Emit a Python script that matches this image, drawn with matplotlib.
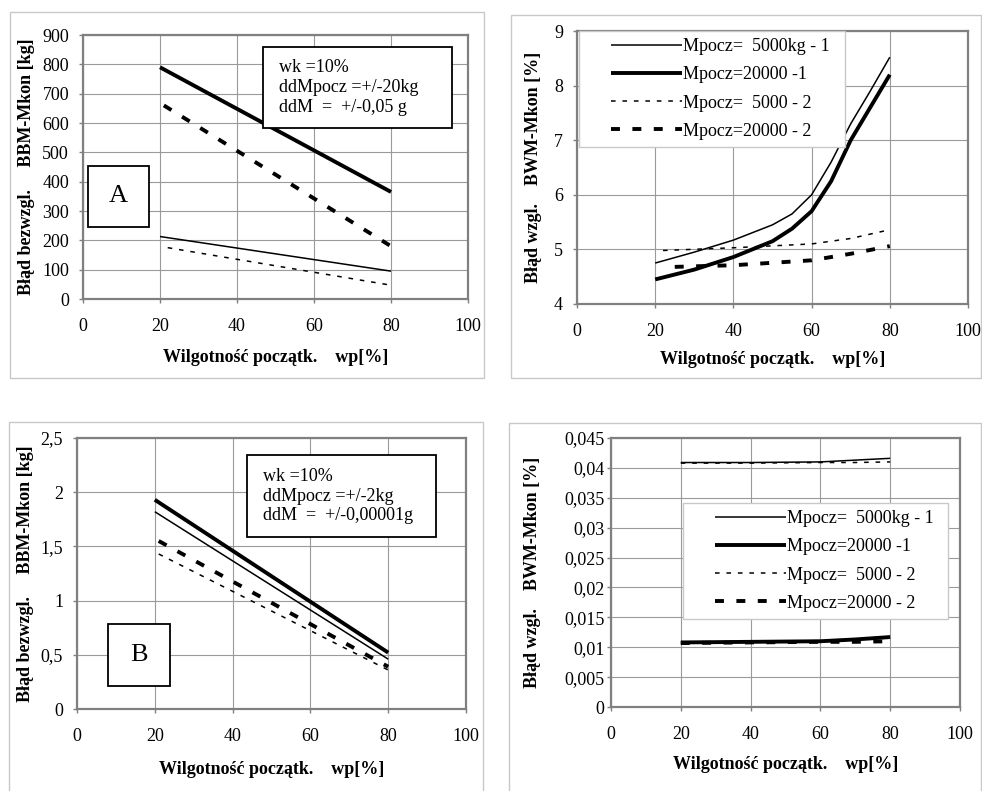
import matplotlib
matplotlib.use("Agg")
import matplotlib.pyplot as plt
from matplotlib.patches import Rectangle
from matplotlib.lines import Line2D
from matplotlib.legend_handler import HandlerLine2D

plt.rcParams['font.family'] = ['Liberation Serif', 'DejaVu Serif']

W, H = 982, 791

# ---- data ----
x_ticks = [0, 20, 40, 60, 80, 100]
x_ticklabels = ['0', '20', '40', '60', '80', '100']

# panel A : absolute error, ddMpocz = +/-20 kg
a_x = [20, 80]
a_thin_solid = [213, 95]
a_thick_solid = [790, 365]
a_dot_x = [22, 80]
a_thin_dot = [175, 47]
a_dash_x = [21, 80]
a_thick_dash = [660, 180]
a_yticks = [0, 100, 200, 300, 400, 500, 600, 700, 800, 900]
a_yticklabels = ['0', '100', '200', '300', '400', '500', '600', '700', '800', '900']

# panel C : relative error, top right
c_x = [20, 30, 40, 50, 55, 60, 65, 70, 75, 80]
c_thin_solid = [4.75, 4.95, 5.17, 5.45, 5.65, 6.0, 6.6, 7.3, 7.9, 8.52]
c_thick_solid = [4.45, 4.63, 4.86, 5.15, 5.38, 5.7, 6.25, 7.0, 7.6, 8.2]
c_dot_x = [22, 40, 60, 70, 80]
c_thin_dot = [4.98, 5.03, 5.1, 5.2, 5.36]
c_dash_x = [25, 40, 60, 70, 80]
c_thick_dash = [4.68, 4.71, 4.8, 4.92, 5.06]
c_yticks = [4, 5, 6, 7, 8, 9]
c_yticklabels = ['4', '5', '6', '7', '8', '9']

# panel B : absolute error, ddMpocz = +/-2 kg
b_x = [20, 80]
b_thin_solid = [1.82, 0.46]
b_thick_solid = [1.93, 0.52]
b_dot_x = [21, 80]
b_thin_dot = [1.43, 0.36]
b_dash_x = [21, 80]
b_thick_dash = [1.55, 0.39]
b_yticks = [0, 0.5, 1, 1.5, 2, 2.5]
b_yticklabels = ['0', '0,5', '1', '1,5', '2', '2,5']

# panel D : relative error, bottom right
d_x = [20, 40, 60, 70, 80]
d_thin_solid = [0.0409, 0.0409, 0.0410, 0.0413, 0.0416]
d_thick_solid = [0.0108, 0.0109, 0.0110, 0.0113, 0.0117]
d_thin_dot = [0.0408, 0.0408, 0.0409, 0.0409, 0.0410]
d_thick_dash = [0.0107, 0.0108, 0.0109, 0.0109, 0.0110]
d_yticks = [0, 0.005, 0.01, 0.015, 0.02, 0.025, 0.03, 0.035, 0.04, 0.045]
d_yticklabels = ['0', '0,005', '0,01', '0,015', '0,02', '0,025', '0,03', '0,035', '0,04', '0,045']

series_names = ['Mpocz=  5000kg - 1', 'Mpocz=20000 -1', 'Mpocz=  5000 - 2', 'Mpocz=20000 - 2']
xlabel = 'Wilgotność początk.    wp[%]'
ylabel_abs_a = 'Błąd bezwzgl.     BBM-Mkon [kg]'
ylabel_abs_b = 'Błąd bezwzgl.     BBM-Mkon [kg]'
ylabel_rel = 'Błąd wzgl.    BWM-Mkon [%]'

FS = 13

thin = dict(color='black', lw=1.1, solid_capstyle='butt')
thick = dict(color='black', lw=2.8, solid_capstyle='butt')
dotted = dict(color='black', lw=1.1, dashes=(3, 4.5))
dashed = dict(color='black', lw=2.8, dashes=(2.3, 3.2))


def rect(l, t, r, b):
    return [l / W, 1 - b / H, (r - l) / W, (b - t) / H]


fig = plt.figure(figsize=(W / 100, H / 100), dpi=100)


def frame(l, t, r, b):
    fig.add_artist(Rectangle((l / W, 1 - b / H), (r - l) / W, (b - t) / H,
                             transform=fig.transFigure, fill=False,
                             edgecolor='#c8c8c8', lw=1.0, zorder=0))


def setup(ax, ylim, yticks, yticklabels, ylab, lab_off, axw, axh, ypad=7):
    ax.set_xlim(0, 100)
    ax.set_ylim(*ylim)
    ax.set_xticks(x_ticks)
    ax.set_xticklabels(x_ticklabels)
    ax.set_yticks(yticks)
    ax.set_yticklabels(yticklabels)
    ax.grid(True, color='#9a9a9a', lw=0.8)
    ax.set_axisbelow(True)
    for s in ax.spines.values():
        s.set_color('#808080')
        s.set_linewidth(1.6)
    ax.tick_params(direction='out', length=3, width=1, color='#808080', labelsize=FS)
    ax.tick_params(axis='x', pad=10.5)
    ax.tick_params(axis='y', pad=ypad)
    ax.set_xlabel(xlabel, fontsize=FS, fontweight='bold')
    ax.set_ylabel(ylab, fontsize=FS, fontweight='bold')
    ax.xaxis.set_label_coords(0.5, -lab_off[0] / axh)
    ax.yaxis.set_label_coords(-lab_off[1] / axw, 0.5)


def textbox(l, t, r, b, lines, tx, ty, dy, size=FS):
    fig.add_artist(Rectangle((l / W, 1 - b / H), (r - l) / W, (b - t) / H,
                             transform=fig.transFigure, facecolor='white',
                             edgecolor='black', lw=1.3, zorder=5))
    for i, s in enumerate(lines):
        fig.text(tx / W, 1 - (ty + i * dy) / H, s, fontsize=size,
                 ha='left', va='center', zorder=6)


def legend(ax, handles, l, t, r, b):
    leg = ax.legend(handles, series_names, loc='upper left',
                    bbox_to_anchor=rect(l, t, r, b), bbox_transform=fig.transFigure,
                    mode='expand', borderaxespad=0, fontsize=FS, handlelength=5.3,
                    handletextpad=0.05, labelspacing=0.62, borderpad=0.4,
                    fancybox=False, framealpha=1, edgecolor='#c8c8c8',
                    handler_map={Line2D: HandlerLine2D(xpad=1.35)})
    leg.get_frame().set_linewidth(1.0)
    leg.set_zorder(5)


# ---- panel A ----
frame(10, 12, 484, 378)
axA = fig.add_axes(rect(83, 35, 468, 299))
axA.plot(a_x, a_thin_solid, **thin)
axA.plot(a_x, a_thick_solid, **thick)
axA.plot(a_dot_x, a_thin_dot, **dotted)
axA.plot(a_dash_x, a_thick_dash, **dashed)
setup(axA, (0, 900), a_yticks, a_yticklabels, ylabel_abs_a, (50, 48), 385, 264)
textbox(263, 47, 452, 128, ['wk =10%', 'ddMpocz =+/-20kg', 'ddM  =  +/-0,05 g'],
        279, 68, 20)
textbox(88, 166, 149, 227, [], 0, 0, 0)
fig.text((88 + 149) / 2 / W, 1 - 196 / H, 'A', fontsize=19, ha='center', va='center', zorder=6)

# ---- panel C ----
frame(511, 15, 981, 378)
axC = fig.add_axes(rect(577, 31, 968, 304))
lc = [axC.plot(c_x, c_thin_solid, **thin)[0],
      axC.plot(c_x, c_thick_solid, **thick)[0],
      axC.plot(c_dot_x, c_thin_dot, **dotted)[0],
      axC.plot(c_dash_x, c_thick_dash, **dashed)[0]]
setup(axC, (4, 9), c_yticks, c_yticklabels, ylabel_rel, (47, 35), 391, 273)
legend(axC, lc, 579, 31, 845, 147)

# ---- panel B ----
frame(9, 422, 483, 800)
axB = fig.add_axes(rect(77, 438, 466, 709))
axB.plot(b_x, b_thin_solid, **thin)
axB.plot(b_x, b_thick_solid, **thick)
axB.plot(b_dot_x, b_thin_dot, **dotted)
axB.plot(b_dash_x, b_thick_dash, **dashed)
setup(axB, (0, 2.5), b_yticks, b_yticklabels, ylabel_abs_b, (52, 43), 389, 271)
textbox(247, 455, 436, 537, ['wk =10%', 'ddMpocz =+/-2kg', 'ddM  =  +/-0,00001g'],
        263, 476, 20)
textbox(108, 624, 170, 686, [], 0, 0, 0)
fig.text((108 + 170) / 2 / W, 1 - 655 / H, 'B', fontsize=19, ha='center', va='center', zorder=6)

# ---- panel D ----
frame(509, 423, 981, 800)
axD = fig.add_axes(rect(611, 438, 960, 707))
ld = [axD.plot(d_x, d_thin_solid, **thin)[0],
      axD.plot(d_x, d_thick_solid, **thick)[0],
      axD.plot(d_x, d_thin_dot, **dotted)[0],
      axD.plot(d_x, d_thick_dash, **dashed)[0]]
setup(axD, (0, 0.045), d_yticks, d_yticklabels, ylabel_rel, (49, 70), 349, 269, ypad=1.5)
legend(axD, ld, 683, 503, 948, 622)

fig.savefig('out.png', dpi=100, facecolor='white')
